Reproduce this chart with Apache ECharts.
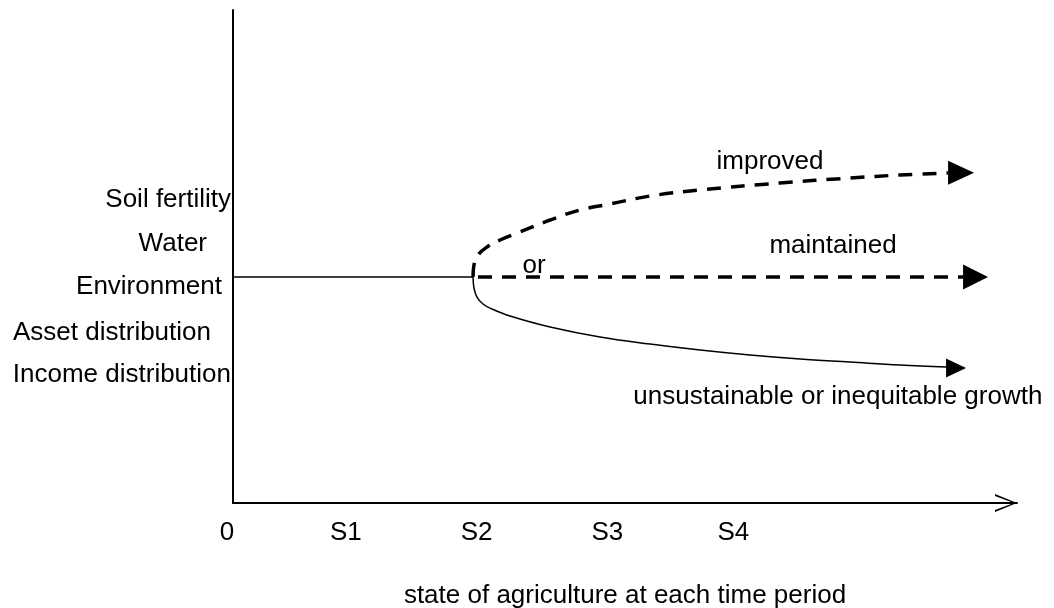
<!DOCTYPE html>
<html>
<head>
<meta charset="utf-8">
<script src="https://cdn.jsdelivr.net/npm/echarts@6/dist/echarts.min.js"></script>
<style>
html,body{margin:0;padding:0;background:#fff;}
#chart{width:1054px;height:608px;}
</style>
</head>
<body>
<div id="chart"></div>
<script>
// ---- data ----
var xTickValues = [0, 0.94, 2.03, 3.12, 4.17];
var xTickLabels = ['0', 'S1', 'S2', 'S3', 'S4'];
var yTickValues = [61.5, 52.5, 43.8, 34.5, 26.0];
var yTickLabels = ['Soil fertility', 'Water', 'Environment', 'Asset distribution', 'Income distribution'];
var xAxisTitle = 'state of agriculture at each time period';

var baselinePath = [[0, 45.84], [2, 45.84]];
var improvedPath = [[2, 45.84], [2.008, 48.28], [2.042, 50.30], [2.117, 51.93], [2.225, 53.35], [2.392, 54.97],
  [2.642, 57.40], [2.892, 59.43], [3.142, 60.65], [3.475, 62.27], [3.892, 63.49], [4.558, 64.91],
  [5.142, 65.92], [5.558, 66.53], [5.958, 66.94]];
var maintainedPath = [[2, 45.84], [6.083, 45.84]];
var unsustainablePath = [[2, 45.84], [2.008, 43.61], [2.033, 41.78], [2.083, 40.37], [2.158, 39.35], [2.308, 37.93],
  [2.642, 35.70], [3.058, 33.67], [3.475, 32.25], [3.892, 31.03], [4.308, 30.02], [4.725, 29.21],
  [5.142, 28.60], [5.558, 27.99], [5.942, 27.59]];
var arrowHeads = [[6.067, 67.0], [6.1875, 45.84], [6.025, 27.38]];
var annotationTexts = ['improved', 'maintained', 'or', 'unsustainable or inequitable growth'];
var annotationPoints = [[4.475, 69.2], [5.0, 52.1], [2.508, 48.07], [5.04, 21.5]];

// ---- chart ----
var FONT = '"Liberation Sans", Arial, sans-serif';
var FS = 26;
var chart = echarts.init(document.getElementById('chart'), null, {renderer: 'canvas'});
function rs(padRight) {
  return {fontFamily: FONT, fontSize: FS, color: '#000', padding: [0, padRight, 0, 0]};
}
var yRich = {a: rs(0), w: rs(24), e: rs(9), s: rs(20)};
var yStyleKeys = ['a', 'w', 'e', 's', 'a'];
var xRich = {z: rs(12), a: rs(0)};
var xStyleKeys = ['z', 'a', 'a', 'a', 'a'];

var arrowSizes = [[24, 26], [25, 25], [19, 20]];

var option = {
  animation: false,
  backgroundColor: '#fff',
  grid: {left: 233, right: 37, top: 10, bottom: 105, containLabel: false, outerBoundsMode: 'none'},
  xAxis: {
    type: 'value', min: 0, max: 6.533,
    splitLine: {show: false},
    axisTick: {show: false},
    axisLine: {
      show: true, onZero: false,
      lineStyle: {color: '#000', width: 2},
      symbol: ['none', 'path://M9,0 L18,22 L16,22 L9,3.2 L2,22 L0,22 Z'],
      symbolSize: [18, 22],
      symbolOffset: [0, -11]
    },
    axisLabel: {
      customValues: xTickValues,
      margin: 17,
      fontFamily: FONT, fontSize: FS, color: '#000',
      rich: xRich,
      formatter: function (v) {
        var i = xTickValues.indexOf(v);
        return i >= 0 ? '{' + xStyleKeys[i] + '|' + xTickLabels[i] + '}' : '';
      }
    },
    name: xAxisTitle,
    nameLocation: 'middle',
    nameGap: 80,
    nameTextStyle: {fontFamily: FONT, fontSize: FS, color: '#000'}
  },
  yAxis: {
    type: 'value', min: 0, max: 100,
    splitLine: {show: false},
    axisTick: {show: false},
    axisLine: {show: true, onZero: false, lineStyle: {color: '#000', width: 2}},
    axisLabel: {
      customValues: yTickValues,
      margin: 2,
      fontFamily: FONT, fontSize: FS, color: '#000',
      rich: yRich,
      formatter: function (v) {
        var i = yTickValues.indexOf(v);
        return i >= 0 ? '{' + yStyleKeys[i] + '|' + yTickLabels[i] + '}' : '';
      }
    }
  },
  series: [
    {type: 'line', data: baselinePath, symbol: 'none', lineStyle: {color: '#000', width: 1.5}},
    {type: 'line', data: improvedPath, symbol: 'none', smooth: 0.4,
      lineStyle: {color: '#000', width: 3.5, type: [14, 10]}},
    {type: 'line', data: maintainedPath, symbol: 'none',
      lineStyle: {color: '#000', width: 3.5, type: [14, 10], dashOffset: -5}},
    {type: 'line', data: unsustainablePath, symbol: 'none', smooth: 0.4,
      lineStyle: {color: '#000', width: 1.5}},
    {type: 'scatter', symbol: 'triangle', symbolRotate: -90,
      data: arrowHeads.map(function (p, i) {
        return {value: p, symbolSize: arrowSizes[i]};
      }),
      itemStyle: {color: '#000', opacity: 1}, silent: true},
    {type: 'scatter', symbolSize: 0, silent: true,
      itemStyle: {opacity: 1},
      data: annotationPoints.map(function (p, i) {
        return {value: p, name: annotationTexts[i]};
      }),
      label: {show: true, position: 'inside', formatter: '{b}',
        fontFamily: FONT, fontSize: FS, color: '#000', opacity: 1,
        align: 'center', verticalAlign: 'middle'}}
  ]
};
chart.setOption(option);
</script>
</body>
</html>
